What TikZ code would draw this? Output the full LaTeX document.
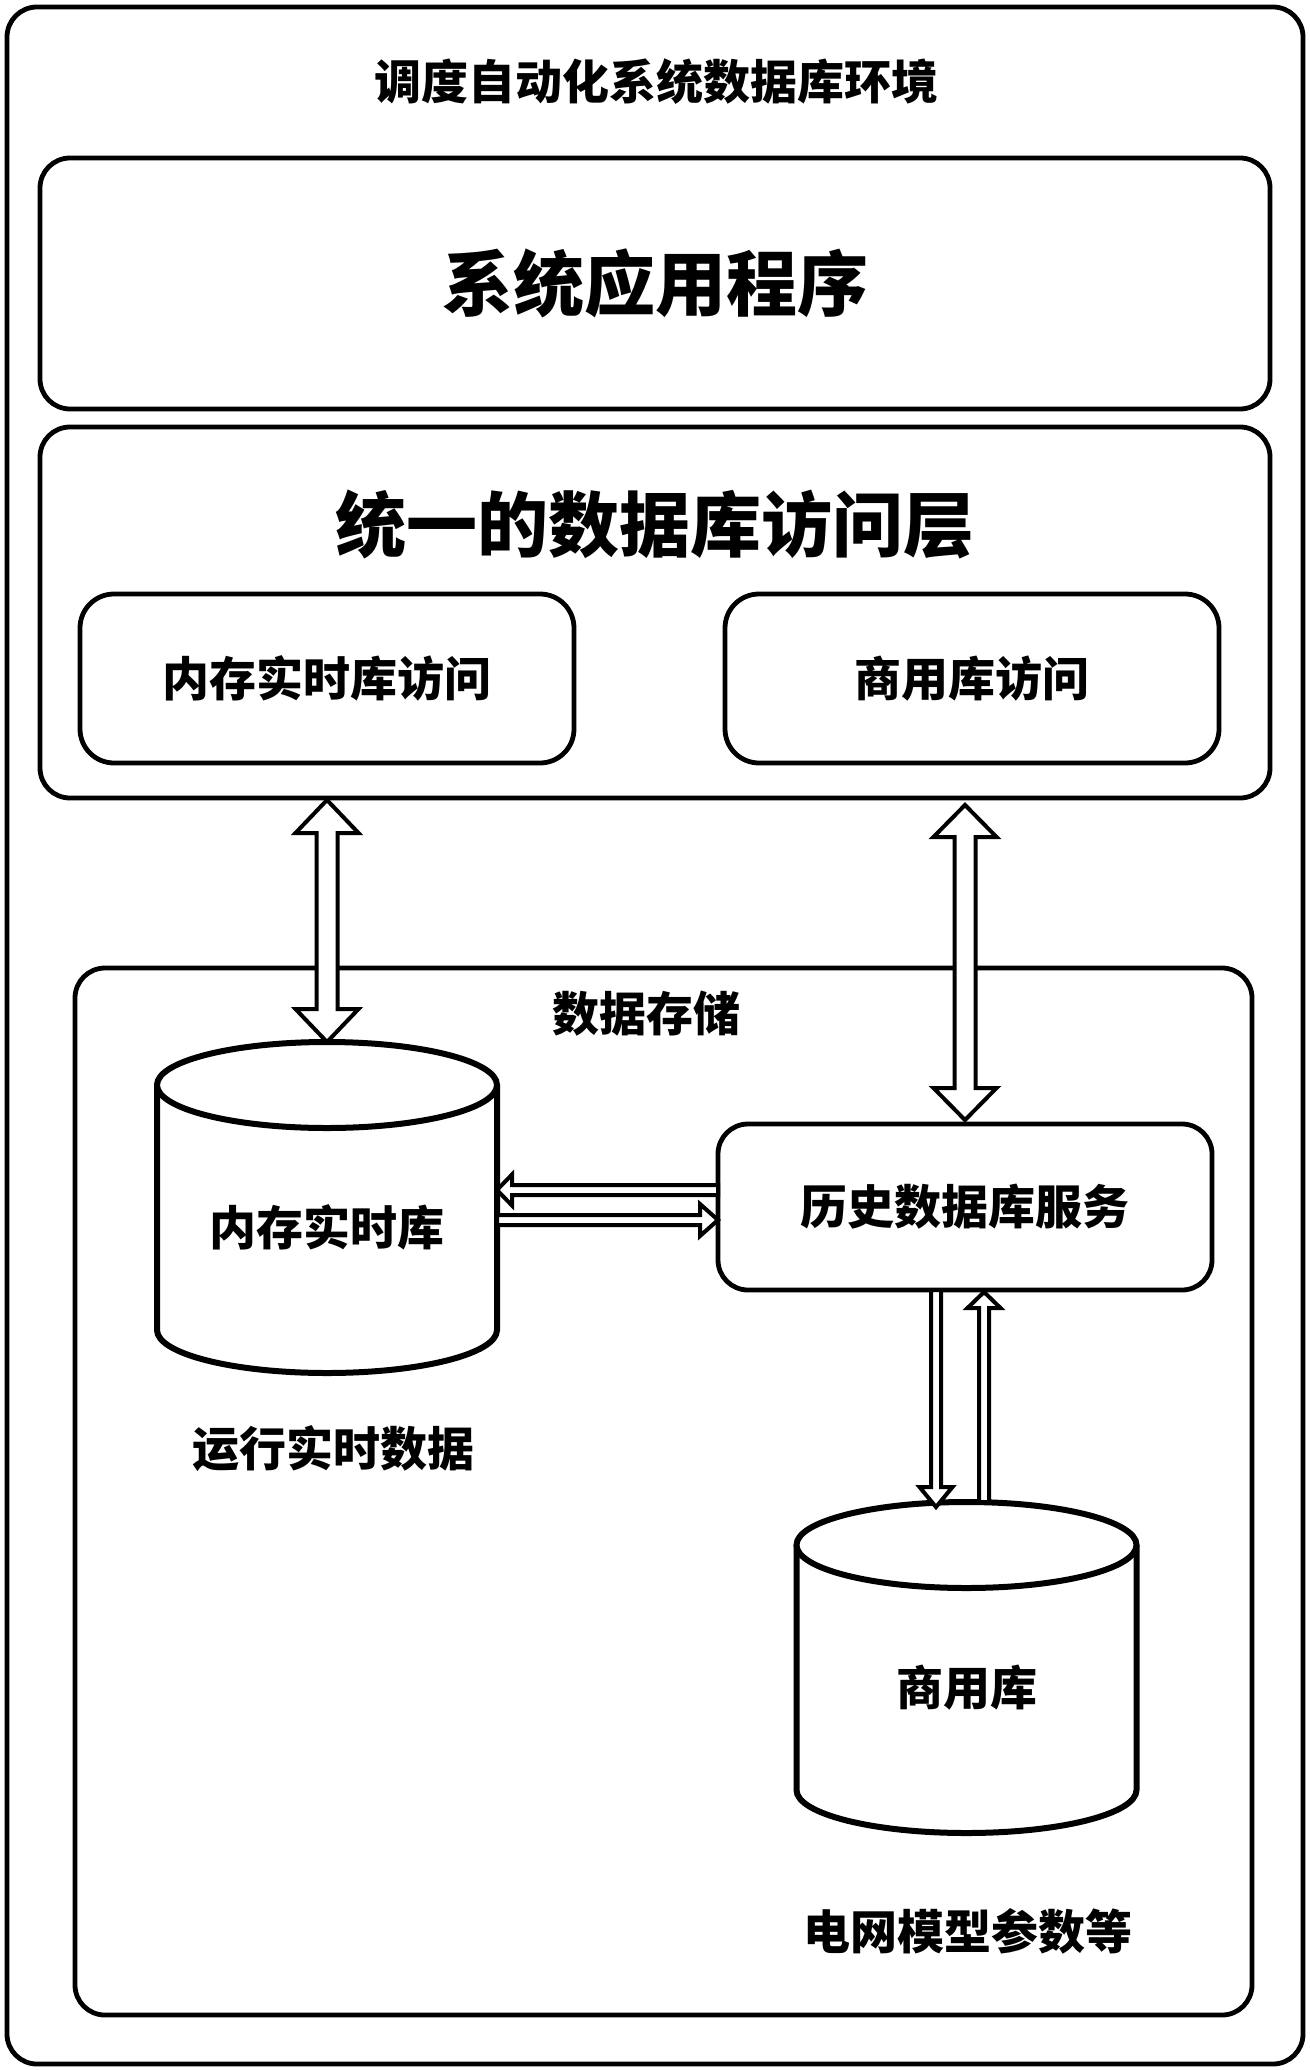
\documentclass[tikz,border=0pt]{standalone}
\usepackage{fontspec}
\setmainfont{Noto Sans CJK SC}
\usetikzlibrary{calc}
\newcommand{\dblV}[5]{% top tip #1, bottom tip #2, shaft half #3, head half #4, head length #5
  \draw[fat] (#1) -- ($(#1)+(#4,#5)$) -- ($(#1)+(#3,#5)$) -- ($(#2)+(#3,-#5)$) -- ($(#2)+(#4,-#5)$) -- (#2)
    -- ($(#2)+(-#4,-#5)$) -- ($(#2)+(-#3,-#5)$) -- ($(#1)+(-#3,#5)$) -- ($(#1)+(-#4,#5)$) -- cycle;}
\newcommand{\sglV}[5]{% tail #1, tip #2 (vertical), shaft half #3, head half #4, head length #5 (signed)
  \draw[fat] ($(#1)+(-#3,0)$) -- ($(#2)+(-#3,-#5)$) -- ($(#2)+(-#4,-#5)$) -- (#2) -- ($(#2)+(#4,-#5)$)
    -- ($(#2)+(#3,-#5)$) -- ($(#1)+(#3,0)$) -- cycle;}
\newcommand{\sglH}[5]{% tail #1, tip #2 (horizontal), shaft half #3, head half #4, head length #5 (signed)
  \draw[fat] ($(#1)+(0,-#3)$) -- ($(#2)+(-#5,-#3)$) -- ($(#2)+(-#5,-#4)$) -- (#2) -- ($(#2)+(-#5,#4)$)
    -- ($(#2)+(-#5,#3)$) -- ($(#1)+(0,#3)$) -- cycle;}
\newcommand{\drawcyl}[1]{%
  \draw[cyl] ($(#1.north west)+(0,43)$) -- ($(#1.south west)+(0,-43)$)
    arc[start angle=180,end angle=360,x radius=85pt,y radius=21.5pt] -- ($(#1.north east)+(0,43)$);
  \draw[cyl] ($(#1.north)+(0,43)$) ellipse[x radius=85pt,y radius=21.5pt];}
\begin{document}
\begin{tikzpicture}[x=0.5pt,y=-0.5pt,
  box/.style={draw, line width=2.4pt, rounded corners=15pt, inner sep=0pt, outer sep=0pt},
  sbox/.style={box, rounded corners=17pt, font=\fontsize{23.5pt}{28pt}\selectfont\bfseries},
  lbl/.style={inner sep=0pt, font=\fontsize{23.5pt}{28pt}\selectfont\bfseries},
  big/.style={inner sep=0pt, font=\fontsize{35.5pt}{42pt}\selectfont\bfseries},
  cylnode/.style={inner sep=0pt, outer sep=0pt, minimum width=170pt, minimum height=165.5pt},
  cyl/.style={draw, line width=3pt, fill=white},
  fat/.style={draw, line width=2pt, fill=white, line join=miter}]
\useasboundingbox (0,0) rectangle (1310,2070);
% boxes
\node[box, minimum width=648pt, minimum height=1028.5pt] (env) at (655,1035.5) {};
\node[lbl] (title) at (656,82) {调度自动化系统数据库环境};
\node[box, big, minimum width=615pt, minimum height=125.5pt] (app) at (655,283.5) {系统应用程序};
\node[box, minimum width=615pt, minimum height=185.5pt] (layer) at (655,612.5) {};
\node[big] (layertitle) at (655,524) {统一的数据库访问层};
\node[sbox, minimum width=247pt, minimum height=84.5pt] (memacc) at (327,678.5) {内存实时库访问};
\node[sbox, minimum width=247pt, minimum height=84.5pt] (bizacc) at (972,678.5) {商用库访问};
\node[box, minimum width=588.5pt, minimum height=523.5pt] (store) at (663.5,1491.5) {};
\node[lbl] (storelbl) at (646,1014) {数据存储};
\node[sbox, rounded corners=15pt, minimum width=247pt, minimum height=83pt] (hist) at (965,1207) {历史数据库服务};
% cylinders
\node[cylnode] (memdb) at (327,1207.5) {};
\drawcyl{memdb}
\node[lbl] (memdbtxt) at ($(memdb.center)+(0,20)$) {内存实时库};
\node[lbl] (memlbl) at (333,1449) {运行实时数据};
\node[cylnode] (bizdb) at (966.5,1667.5) {};
\drawcyl{bizdb}
\node[lbl] (bizdbtxt) at ($(bizdb.center)+(0,20)$) {商用库};
\node[lbl] (bizlbl) at (968,1931) {电网模型参数等};
% connectors
\coordinate (a1t) at ($(memdb.north |- layer.south)+(0,2)$);
\dblV{a1t}{memdb.north}{10.5}{31.5}{33}
\coordinate (a2t) at ($(hist.north |- layer.south)+(0,7)$);
\coordinate (a2b) at ($(hist.north)+(0,-4)$);
\dblV{a2t}{a2b}{10.5}{31.5}{32}
\coordinate (h1) at ($(hist.west)+(0,-17)$);
\coordinate (m1) at (memdb.east |- h1);
\sglH{h1}{m1}{5}{15.5}{-15}
\coordinate (h2) at ($(hist.west)+(0,13)$);
\coordinate (m2) at (memdb.east |- h2);
\sglH{m2}{h2}{5}{16}{18}
\coordinate (d1) at ($(hist.south)+(-29,0)$);
\coordinate (d2) at ($(d1 |- bizdb.north)+(0,5)$);
\sglV{d1}{d2}{5}{16.5}{20}
\coordinate (u1) at ($(hist.south)+(19,2)$);
\coordinate (u2) at (u1 |- bizdb.north);
\sglV{u2}{u1}{5}{16.5}{-16}
\end{tikzpicture}
\end{document}
